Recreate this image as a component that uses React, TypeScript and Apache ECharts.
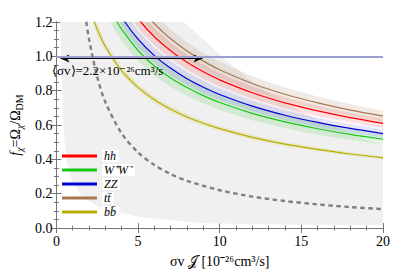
import React, { useEffect, useRef } from 'react';
import * as echarts from 'echarts';

// ---- data ----
const xTickValues = [0, 5, 10, 15, 20];
const yTickValues = [0, 0.2, 0.4, 0.6, 0.8, 1.0, 1.2];

const ttPoints = [[5.0, 1.304], [5.9, 1.2], [6.5, 1.144], [7, 1.102], [8, 1.031], [9, 0.972], [10, 0.922], [12, 0.842], [14, 0.779], [16, 0.729], [18, 0.687], [20, 0.652]];
const hhPoints = [[4.4, 1.301], [5.17, 1.2], [6, 1.114], [7, 1.032], [8, 0.965], [9, 0.91], [10, 0.863], [12, 0.788], [14, 0.729], [16, 0.682], [18, 0.643], [20, 0.61]];
const zzPoints = [[3.6, 1.296], [4.2, 1.2], [5, 1.1], [6, 1.004], [7, 0.93], [8, 0.87], [9, 0.82], [10, 0.778], [12, 0.71], [14, 0.657], [16, 0.615], [18, 0.58], [20, 0.55]];
const wwPoints = [[3.2, 1.293], [3.72, 1.2], [4, 1.157], [5, 1.034], [6, 0.944], [7, 0.874], [8, 0.818], [9, 0.771], [10, 0.731], [12, 0.668], [14, 0.618], [16, 0.578], [18, 0.545], [20, 0.517]];
const bbPoints = [[2.0, 1.294], [2.33, 1.2], [2.5, 1.158], [3, 1.057], [4, 0.915], [5, 0.819], [6, 0.747], [7, 0.692], [8, 0.647], [9, 0.61], [10, 0.579], [12, 0.528], [14, 0.489], [16, 0.458], [18, 0.431], [20, 0.409]];
const thermalPoints = [[1.7, 1.294], [1.83, 1.2], [2, 1.1], [2.5, 0.88], [3, 0.733], [4, 0.55], [5, 0.44], [6, 0.367], [7, 0.314], [8, 0.275], [10, 0.22], [12, 0.183], [14, 0.157], [16, 0.1375], [18, 0.122], [20, 0.11]];

// relative half-width of each channel's uncertainty band
const ttBand = 0.05;
const hhBand = 0.045;
const zzBand = 0.045;
const wwBand = 0.06;
const bbBand = 0.025;

// overall light-gray allowed region (outline)
const grayRegion = [
  [0.24, 1.2], [7.8, 1.2], [9, 1.1], [10.1, 1.0], [12, 0.85], [14, 0.73], [16, 0.63], [18, 0.55], [20, 0.48],
  [20, 0.017], [14, 0.021], [9, 0.027], [5.2, 0.062], [2.8, 0.11], [1.52, 0.187], [0.93, 0.284], [0.59, 0.4],
  [0.5, 0.5], [0.42, 0.6], [0.36, 0.8], [0.3, 1.0],
];

const thermalXsec = [[0.25, 0.987], [8.95, 0.987]];
const unitLine = 1.0;

const SERIF = 'Times New Roman';

const channels = [
  { name: 'hh', pts: hhPoints, band: hhBand, color: '#ff0000', fill: 'rgba(255,0,0,0.12)' },
  { name: 'W\u207aW\u207b', pts: wwPoints, band: wwBand, color: '#18c818', fill: 'rgba(0,200,0,0.12)' },
  { name: 'ZZ', pts: zzPoints, band: zzBand, color: '#0000d0', fill: 'rgba(0,0,230,0.10)' },
  { name: 'tt\u0304', pts: ttPoints, band: ttBand, color: '#a8764f', fill: 'rgba(160,110,70,0.14)' },
  { name: 'bb\u0304', pts: bbPoints, band: bbBand, color: '#b8b000', fill: 'rgba(190,180,0,0.16)' },
];

function polygonSeries(points: number[][], fill: string, z: number) {
  return {
    type: 'custom',
    silent: true,
    clip: true,
    z,
    data: [points[0]],
    renderItem: (_p: any, api: any) => ({
      type: 'polygon',
      shape: { points: points.map((p) => api.coord(p)) },
      style: { fill },
    }),
  };
}

function bandPoints(pts: number[][], rel: number) {
  const upper = pts.map(([x, f]) => [x, f * (1 + rel)]);
  const lower = pts.map(([x, f]) => [x, f * (1 - rel)]).reverse();
  return upper.concat(lower);
}

export default function App() {
  const ref = useRef<HTMLDivElement>(null);
  useEffect(() => {
    if (!ref.current) return;
    const chart = echarts.init(ref.current, null, { renderer: 'svg' });
    const axisCommon = {
      axisLine: { show: true, lineStyle: { color: '#777', width: 1 } },
      axisTick: { show: true, inside: true, length: 5, lineStyle: { color: '#777' } },
      minorTick: { show: true, length: 2.5, lineStyle: { color: '#777' } },
      splitLine: { show: false },
    };
    const series: any[] = [];
    series.push(polygonSeries(grayRegion, '#f0f0f0', 1));
    channels.forEach((c) => series.push(polygonSeries(bandPoints(c.pts, c.band), c.fill, 2)));
    channels.forEach((c) =>
      series.push({
        type: 'line',
        name: c.name,
        data: c.pts,
        smooth: 0.3,
        showSymbol: false,
        clip: true,
        z: 4,
        lineStyle: { color: c.color, width: 1.2 },
        itemStyle: { color: c.color },
      })
    );
    series.push({
      type: 'line',
      name: 'thermal',
      data: thermalPoints,
      smooth: 0.3,
      showSymbol: false,
      clip: true,
      z: 5,
      lineStyle: { color: '#808080', width: 2.4, type: [4.5, 3.5] },
      markLine: {
        silent: true,
        animation: false,
        label: { show: false },
        data: [
          [
            { coord: thermalXsec[0], symbol: 'arrow', symbolSize: [6, 9], lineStyle: { color: '#000', width: 1, type: 'solid' } },
            { coord: thermalXsec[1], symbol: 'arrow', symbolSize: [6, 9] },
          ],
          [
            { coord: [0, unitLine], symbol: 'none', lineStyle: { color: '#9d9fd2', width: 2, type: 'solid' } },
            { coord: [20, unitLine], symbol: 'none' },
          ],
        ],
      },
    });

    chart.setOption({
      animation: false,
      textStyle: { fontFamily: SERIF },
      grid: { left: 46, right: 22, top: 22, bottom: 44 },
      legend: {
        data: channels.map((c) => c.name),
        orient: 'vertical',
        left: 62,
        top: 150,
        padding: 0,
        itemGap: 2,
        itemWidth: 35,
        itemHeight: 3,
        icon: 'rect',
        textStyle: { fontFamily: SERIF, fontStyle: 'italic', fontSize: 12, lineHeight: 12, color: '#000', backgroundColor: '#fff', padding: [0, 3, 0, 2] },
      },
      xAxis: [
        {
          type: 'value', min: 0, max: 20, interval: 5,
          ...axisCommon,
          minorTick: { ...axisCommon.minorTick, splitNumber: 5 },
          axisLabel: { fontFamily: SERIF, fontSize: 14, color: '#000', margin: 6, formatter: (v: number) => (xTickValues.includes(v) ? String(v) : '') },
          name: '\u03c3v \ud835\udca5 [10\u207b\u00b2\u2076cm\u00b3/s]',
          nameLocation: 'middle',
          nameGap: 26,
          nameTextStyle: { fontFamily: SERIF, fontSize: 14, color: '#000' },
        },
        {
          type: 'value', min: 0, max: 20, interval: 5, position: 'top',
          ...axisCommon,
          minorTick: { ...axisCommon.minorTick, splitNumber: 5 },
          axisLabel: { show: false },
        },
      ],
      yAxis: [
        {
          type: 'value', min: 0, max: 1.2, interval: 0.2,
          ...axisCommon,
          minorTick: { ...axisCommon.minorTick, splitNumber: 4 },
          axisLabel: { fontFamily: SERIF, fontSize: 14, color: '#000', margin: 4, formatter: (v: number) => (yTickValues.some((t) => Math.abs(t - v) < 1e-6) ? v.toFixed(1) : '') },
          name: '{i|f}{s|\u03c7}{n|=\u03a9}{s|\u03c7}{n|/\u03a9}{d|DM}',
          nameLocation: 'middle',
          nameRotate: 90,
          nameGap: 28,
          nameTextStyle: {
            fontFamily: SERIF, fontSize: 14, color: '#000',
            rich: {
              i: { fontFamily: SERIF, fontSize: 14, fontStyle: 'italic', lineHeight: 18 },
              n: { fontFamily: SERIF, fontSize: 14, lineHeight: 18 },
              s: { fontFamily: SERIF, fontSize: 10, fontStyle: 'italic', verticalAlign: 'bottom', lineHeight: 18 },
              d: { fontFamily: SERIF, fontSize: 10, verticalAlign: 'bottom', lineHeight: 18 },
            },
          },
        },
        {
          type: 'value', min: 0, max: 1.2, interval: 0.2, position: 'right',
          ...axisCommon,
          minorTick: { ...axisCommon.minorTick, splitNumber: 4 },
          axisLabel: { show: false },
        },
      ],
      graphic: [
        {
          type: 'text',
          left: 52,
          top: 64,
          z: 10,
          style: { text: '\u27e8\u03c3v\u27e9=2.2\u00d710\u207b\u00b2\u2076cm\u00b3/s', fontFamily: SERIF, fontSize: 13, fill: '#000' },
        },
      ],
      series,
    });
    return () => chart.dispose();
  }, []);
  return <div ref={ref} style={{ position: 'absolute', left: 0, top: 0, width: 405, height: 273 }} />;
}
